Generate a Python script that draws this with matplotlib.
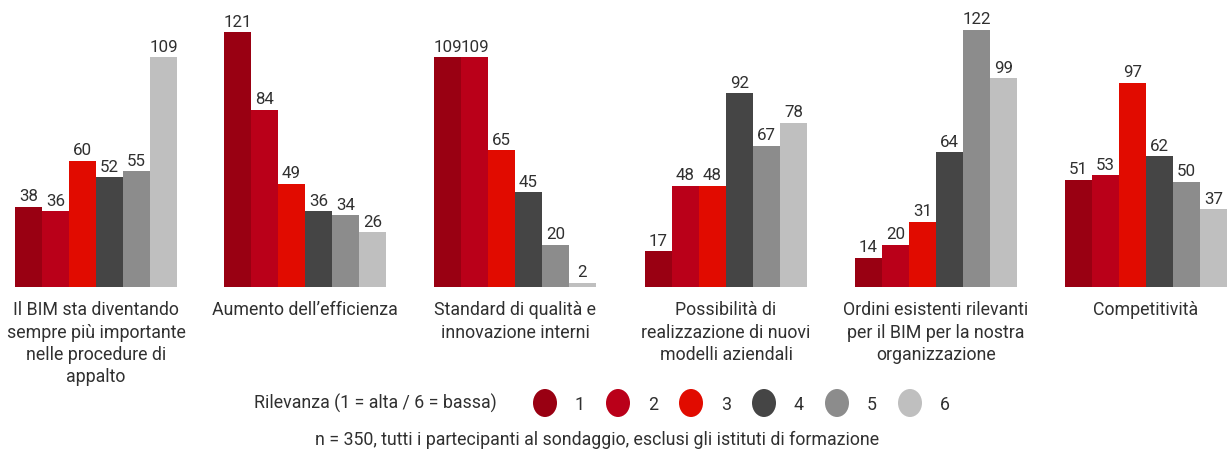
import matplotlib
matplotlib.use("Agg")
import matplotlib.pyplot as plt
from matplotlib.patches import Ellipse

plt.rcParams['font.family'] = ['Roboto', 'Liberation Sans', 'DejaVu Sans']

# Dati del sondaggio
categorie = [
    "Il BIM sta diventando\nsempre più importante\nnelle procedure di\nappalto",
    "Aumento dell’efficienza",
    "Standard di qualità e\ninnovazione interni",
    "Possibilità di\nrealizzazione di nuovi\nmodelli aziendali",
    "Ordini esistenti rilevanti\nper il BIM per la nostra\norganizzazione",
    "Competitività",
]
rilevanza = ["1", "2", "3", "4", "5", "6"]
valori = [
    [38, 36, 60, 52, 55, 109],
    [121, 84, 49, 36, 34, 26],
    [109, 109, 65, 45, 20, 2],
    [17, 48, 48, 92, 67, 78],
    [14, 20, 31, 64, 122, 99],
    [51, 53, 97, 62, 50, 37],
]
colori = ["#990012", "#ba0019", "#e10b00", "#454545", "#8c8c8c", "#bfbfbf"]
testo = "#303030"
fs = 12.8

W, H = 1231, 449
fig = plt.figure(figsize=(W / 100, H / 100), dpi=100)
ax = fig.add_axes([0, 162 / H, 1, 287 / H])

larg = 27
inizio_gruppi = [15, 224, 434, 645, 855, 1065]
for g, vals in enumerate(valori):
    for j, v in enumerate(vals):
        x = inizio_gruppi[g] + j * larg
        ax.bar(x, v, width=larg, align="edge", color=colori[j], linewidth=0)
        ax.text(x + larg / 2, v + 1.2, str(v), ha="center", va="bottom",
                fontsize=12.2, color=testo)
    centro = inizio_gruppi[g] + 3 * larg
    ax.text(centro, -6.8, categorie[g], ha="center", va="top",
            fontsize=fs, color=testo, linespacing=1.3)

ax.set_xlim(0, W)
ax.set_ylim(0, 287 / 2.107)
ax.axis("off")

# Legenda
fig.text(497 / W, 1 - 403 / H, "Rilevanza (1 = alta / 6 = bassa)", ha="right",
         va="center", fontsize=fs, color=testo)
cx = [545, 618, 691, 764, 837, 910]
for i, c in enumerate(colori):
    fig.add_artist(Ellipse((cx[i] / W, 1 - 403 / H), 24 / W, 28 / H,
                           transform=fig.transFigure, color=c, lw=0))
    fig.text((cx[i] + 35) / W, 1 - 405 / H, rilevanza[i], ha="center",
             va="center", fontsize=fs, color=testo)

fig.text(597 / W, 1 - 440 / H,
         "n = 350, tutti i partecipanti al sondaggio, esclusi gli istituti di formazione",
         ha="center", va="center", fontsize=fs, color=testo)

fig.savefig("out.png", dpi=100)
